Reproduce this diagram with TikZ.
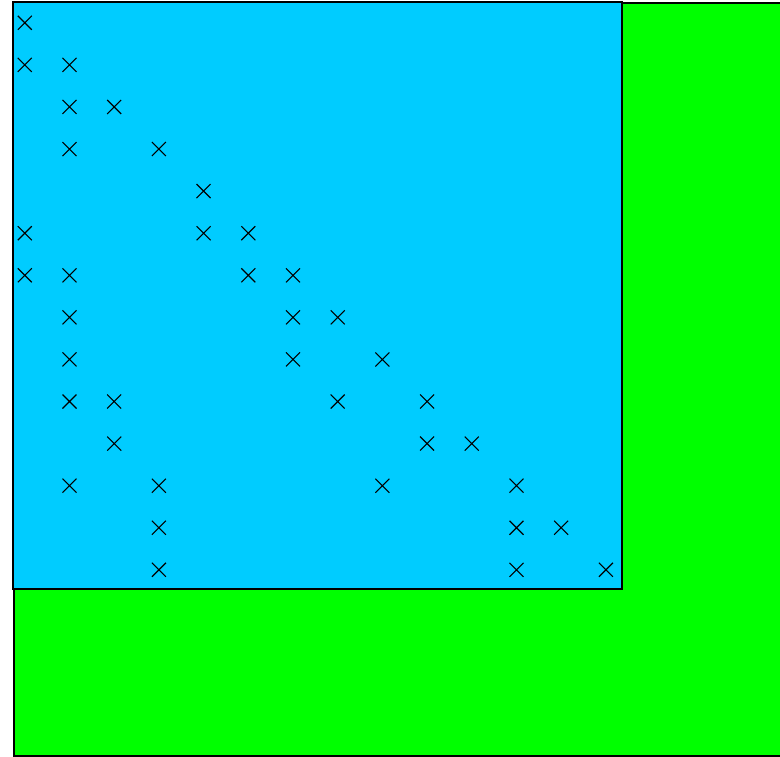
\documentclass[tikz,border=0pt]{standalone}
\usetikzlibrary{shapes.misc}
\definecolor{boxblue}{HTML}{00CCFF}
\definecolor{boxgreen}{HTML}{00FF00}
\tikzset{
  crossmark/.style={cross out, draw=black, line width=1.1pt, minimum width=14pt, minimum height=14pt, inner sep=0pt, outer sep=0pt},
  panel/.style={draw=black, line width=1.3pt}
}
\begin{document}
\begin{tikzpicture}[x=1pt,y=-1pt]
\useasboundingbox (0,0) rectangle (780,757);
\clip (0,0) rectangle (780,757);
\fill[boxgreen,panel] (14,3) rectangle (800,756);
\fill[boxblue,panel] (13,2) rectangle (622,589);
\foreach \r/\cols in {1/{1},2/{1,2},3/{2,3},4/{2,4},5/{5},6/{1,5,6},7/{1,2,6,7},8/{2,7,8},9/{2,7,9},10/{2,3,8,10},11/{3,10,11},12/{2,4,9,12},13/{4,12,13},14/{4,12,14}}{
  \foreach \c in \cols {
    \node[crossmark] (m-\r-\c) at ({24.8+(\c-1)*44.7},{22.8+(\r-1)*42.08}) {};
  }
}
\end{tikzpicture}
\end{document}
